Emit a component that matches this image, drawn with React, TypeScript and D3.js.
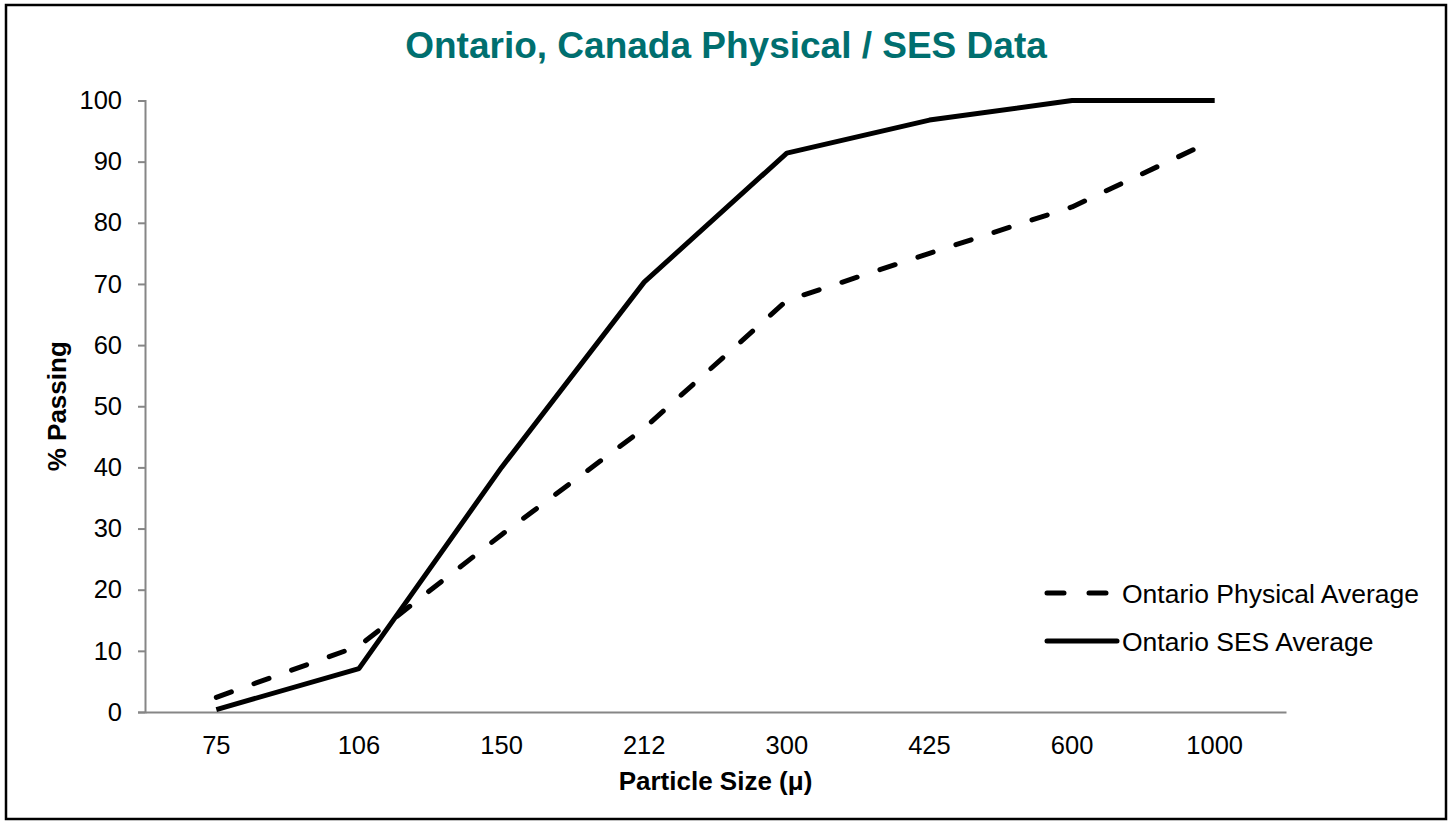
import React, { useEffect, useRef } from 'react'
import * as d3 from 'd3'

// particle sizes (microns) and % passing
const sizes = ['75', '106', '150', '212', '300', '425', '600', '1000']
const physicalAvg = [2.4, 10.8, 29, 46.4, 67.3, 75, 82.6, 93.6]
const sesAvg = [0.4, 7.1, 40, 70.3, 91.4, 96.8, 100, 100]
const yTicks = [0, 10, 20, 30, 40, 50, 60, 70, 80, 90, 100]
const seriesNames = ['Ontario Physical Average', 'Ontario SES Average']

export default function App() {
	const ref = useRef<SVGSVGElement>(null)

	useEffect(() => {
		document.body.style.margin = '0'
		const svg = d3.select(ref.current)
		svg.selectAll('*').remove()

		const W = 1450
		const H = 824
		const margin = { top: 100.5, right: 164, bottom: 112, left: 145 }
		const font = 'Arial, "Liberation Sans", sans-serif'

		// chart border
		svg.append('rect')
			.attr('x', 6).attr('y', 5)
			.attr('width', 1440).attr('height', 814)
			.attr('fill', '#fff')
			.attr('stroke', '#000')
			.attr('stroke-width', 2.5)

		const x = d3.scaleBand()
			.domain(sizes)
			.range([margin.left, W - margin.right])

		const y = d3.scaleLinear()
			.domain([0, 100])
			.range([H - margin.bottom, margin.top])

		// title
		svg.append('text')
			.attr('x', 726).attr('y', 58)
			.attr('text-anchor', 'middle')
			.style('font-family', font)
			.style('font-size', '37px')
			.style('font-weight', 'bold')
			.style('fill', '#006F6F')
			.text('Ontario, Canada Physical / SES Data')

		// y axis
		const yAxis = svg.append('g')
			.attr('transform', `translate(${margin.left},0)`)
			.call(d3.axisLeft(y).tickValues(yTicks).tickSize(7).tickPadding(16))
		yAxis.select('.domain').attr('stroke', '#868686').attr('stroke-width', 2)
		yAxis.selectAll('line').attr('stroke', '#868686').attr('stroke-width', 2)
		yAxis.selectAll('text')
			.style('font-family', font)
			.style('font-size', '25.5px')
			.style('fill', '#000')

		// x axis
		const xAxis = svg.append('g')
			.attr('transform', `translate(0,${H - margin.bottom})`)
			.call(d3.axisBottom(x).tickSize(0).tickPadding(24).tickSizeOuter(0))
		xAxis.select('.domain').attr('stroke', '#868686').attr('stroke-width', 2)
		xAxis.selectAll('text')
			.style('font-family', font)
			.style('font-size', '25.5px')
			.style('fill', '#000')

		// axis titles
		svg.append('text')
			.attr('x', (margin.left + W - margin.right) / 2)
			.attr('y', 790)
			.attr('text-anchor', 'middle')
			.style('font-family', font)
			.style('font-size', '26px')
			.style('font-weight', 'bold')
			.text('Particle Size (μ)')

		svg.append('text')
			.attr('transform', `translate(66,${(y(0) + y(100)) / 2}) rotate(-90)`)
			.attr('text-anchor', 'middle')
			.style('font-family', font)
			.style('font-size', '26px')
			.style('font-weight', 'bold')
			.text('% Passing')

		const line = d3.line<number>()
			.x((_, i) => (x(sizes[i]) as number) + x.bandwidth() / 2)
			.y(d => y(d))

		const series = [
			{ name: seriesNames[0], values: physicalAvg, dash: '16,24' },
			{ name: seriesNames[1], values: sesAvg, dash: null },
		]

		series.forEach(s => {
			svg.append('path')
				.datum(s.values)
				.attr('d', line)
				.attr('fill', 'none')
				.attr('stroke', '#000')
				.attr('stroke-width', 5)
				.attr('stroke-linejoin', 'round')
				.attr('stroke-linecap', s.dash ? 'round' : 'butt')
				.attr('stroke-dasharray', s.dash)
		})

		// legend
		const legend = svg.append('g').attr('transform', 'translate(1045,593)')
		series.forEach((s, i) => {
			const g = legend.append('g').attr('transform', `translate(0,${i * 48})`)
			g.append('line')
				.attr('x1', 2).attr('x2', s.dash ? 63 : 72)
				.attr('y1', 0).attr('y2', 0)
				.attr('stroke', '#000')
				.attr('stroke-width', 5)
				.attr('stroke-linecap', 'round')
				.attr('stroke-dasharray', s.dash ? '17,25' : null)
			g.append('text')
				.attr('x', 77).attr('y', 9.5)
				.style('font-family', font)
				.style('font-size', '26.5px')
				.text(s.name)
		})
	}, [])

	return (
		<svg ref={ref} width={1450} height={824} style={{ display: 'block' }} />
	)
}
